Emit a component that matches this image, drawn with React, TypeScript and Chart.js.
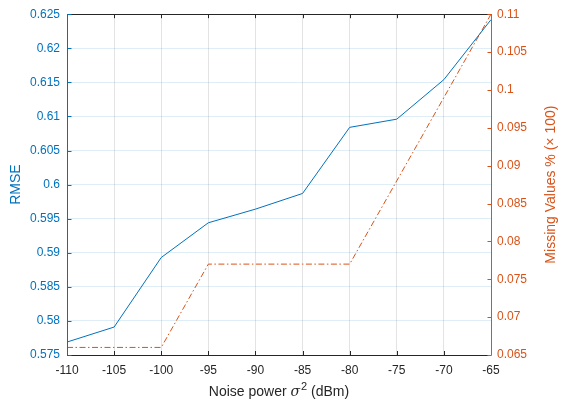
import React, { useEffect, useRef } from "react";
import { Chart, registerables } from "chart.js";

Chart.register(...registerables);

const noisePower = [-110, -105, -100, -95, -90, -85, -80, -75, -70, -65];
const rmseValues = [0.5769, 0.5791, 0.5893, 0.5944, 0.5964, 0.5987, 0.6084, 0.6096, 0.6154, 0.6242];
const missingValues = [0.066, 0.066, 0.066, 0.077, 0.077, 0.077, 0.077, 0.088, 0.099, 0.11];

const leftTitle = "RMSE";
const rightTitle = "Missing Values % (\u00d7 100)";
const xTitleParts = ["Noise power ", "\u03c3", "2", " (dBm)"];

const BLUE = "#0072BD";
const ORANGE = "#D95319";
const DARK = "#262626";
const FONT = "'Liberation Sans', Arial, Helvetica, sans-serif";

const fmt = (v: number) => String(Number(Number(v).toFixed(4)));

const axesPlugin = {
  id: "matlabAxes",
  afterDraw(chart: any) {
    const { ctx, chartArea } = chart;
    const { left, right, top, bottom } = chartArea;
    const tl = 4;
    ctx.save();
    ctx.lineWidth = 1;
    const xs = chart.scales.x;
    ctx.strokeStyle = DARK;
    ctx.beginPath();
    xs.ticks.forEach((t: any) => {
      const px = Math.round(xs.getPixelForValue(t.value)) + 0.5;
      ctx.moveTo(px, bottom);
      ctx.lineTo(px, bottom - tl);
      ctx.moveTo(px, top);
      ctx.lineTo(px, top + tl);
    });
    ctx.stroke();
    ctx.beginPath();
    ctx.moveTo(left, Math.round(top) + 0.5);
    ctx.lineTo(right, Math.round(top) + 0.5);
    ctx.moveTo(left, Math.round(bottom) + 0.5);
    ctx.lineTo(right, Math.round(bottom) + 0.5);
    ctx.stroke();
    const ys = chart.scales.y;
    ctx.strokeStyle = BLUE;
    ctx.beginPath();
    const lx = Math.round(left) + 0.5;
    ctx.moveTo(lx, top);
    ctx.lineTo(lx, bottom + 0.5);
    ys.ticks.forEach((t: any) => {
      const py = Math.round(ys.getPixelForValue(t.value)) + 0.5;
      ctx.moveTo(lx, py);
      ctx.lineTo(lx + tl, py);
    });
    ctx.stroke();
    const y1 = chart.scales.y1;
    ctx.strokeStyle = ORANGE;
    ctx.beginPath();
    const rx = Math.round(right) + 0.5;
    ctx.moveTo(rx, top);
    ctx.lineTo(rx, bottom + 0.5);
    y1.ticks.forEach((t: any) => {
      const py = Math.round(y1.getPixelForValue(t.value)) + 0.5;
      ctx.moveTo(rx, py);
      ctx.lineTo(rx - tl, py);
    });
    ctx.stroke();

    const midY = (top + bottom) / 2;
    ctx.textBaseline = "alphabetic";
    ctx.textAlign = "center";
    ctx.font = `14px ${FONT}`;
    ctx.fillStyle = BLUE;
    ctx.save();
    ctx.translate(20, midY);
    ctx.rotate(-Math.PI / 2);
    ctx.fillText(leftTitle, 0, 0);
    ctx.restore();

    ctx.fillStyle = ORANGE;
    ctx.save();
    ctx.translate(555, midY);
    ctx.rotate(-Math.PI / 2);
    ctx.fillText(rightTitle, 0, 0);
    ctx.restore();

    ctx.fillStyle = DARK;
    ctx.textAlign = "left";
    const fonts = [
      `14px ${FONT}`,
      `italic 14px 'DejaVu Serif', 'Liberation Serif', serif`,
      `11px ${FONT}`,
      `14px ${FONT}`,
    ];
    const widths = xTitleParts.map((p, i) => {
      ctx.font = fonts[i];
      return ctx.measureText(p).width + (i === 1 ? 1 : 0);
    });
    const total = widths.reduce((a, b) => a + b, 0);
    let cx = (left + right) / 2 - total / 2;
    const baseY = 396;
    xTitleParts.forEach((p, i) => {
      ctx.font = fonts[i];
      ctx.fillText(p, cx, i === 2 ? baseY - 6 : baseY);
      cx += widths[i];
    });
    ctx.restore();
  },
};

export default function App() {
  const ref = useRef<HTMLCanvasElement>(null);
  useEffect(() => {
    document.body.style.margin = "0";
    const canvas = ref.current!;
    const chart = new Chart(canvas, {
      type: "line",
      data: {
        datasets: [
          {
            label: leftTitle,
            data: noisePower.map((x, i) => ({ x, y: rmseValues[i] })),
            borderColor: BLUE,
            backgroundColor: BLUE,
            borderWidth: 1,
            pointRadius: 0,
            yAxisID: "y",
            tension: 0,
          },
          {
            label: rightTitle,
            data: noisePower.map((x, i) => ({ x, y: missingValues[i] })),
            borderColor: ORANGE,
            backgroundColor: ORANGE,
            borderWidth: 1,
            borderDash: [6, 2.5, 1.5, 2.5],
            pointRadius: 0,
            yAxisID: "y1",
            tension: 0,
          },
        ],
      },
      options: {
        animation: false,
        responsive: true,
        maintainAspectRatio: false,
        layout: { padding: { top: 13, left: 0, right: 0, bottom: 0 } },
        plugins: { legend: { display: false }, tooltip: { enabled: false } },
        scales: {
          x: {
            type: "linear",
            min: -110,
            max: -65,
            ticks: {
              stepSize: 5,
              color: DARK,
              padding: 8,
              maxRotation: 0,
              font: { family: FONT, size: 12 },
              callback: (v: any) => fmt(v),
            },
            grid: { color: "rgba(38,38,38,0.13)", drawTicks: false },
            border: { display: false },
            afterFit: (s: any) => {
              s.height = 46;
            },
          },
          y: {
            type: "linear",
            position: "left",
            min: 0.575,
            max: 0.625,
            ticks: {
              stepSize: 0.005,
              color: BLUE,
              padding: 7,
              font: { family: FONT, size: 12 },
              callback: (v: any) => fmt(v),
            },
            grid: { color: "rgba(0,114,189,0.13)", drawTicks: false },
            border: { display: false },
            afterFit: (s: any) => {
              s.width = 67;
            },
          },
          y1: {
            type: "linear",
            position: "right",
            min: 0.065,
            max: 0.11,
            ticks: {
              stepSize: 0.005,
              color: ORANGE,
              padding: 6,
              font: { family: FONT, size: 12 },
              callback: (v: any) => fmt(v),
            },
            grid: { drawOnChartArea: false, drawTicks: false },
            border: { display: false },
            afterFit: (s: any) => {
              s.width = 72;
            },
          },
        },
      },
      plugins: [axesPlugin],
    });
    return () => chart.destroy();
  }, []);
  return (
    <div style={{ position: "absolute", left: 0, top: 0, width: 563, height: 401, background: "#fff" }}>
      <canvas ref={ref} />
    </div>
  );
}
